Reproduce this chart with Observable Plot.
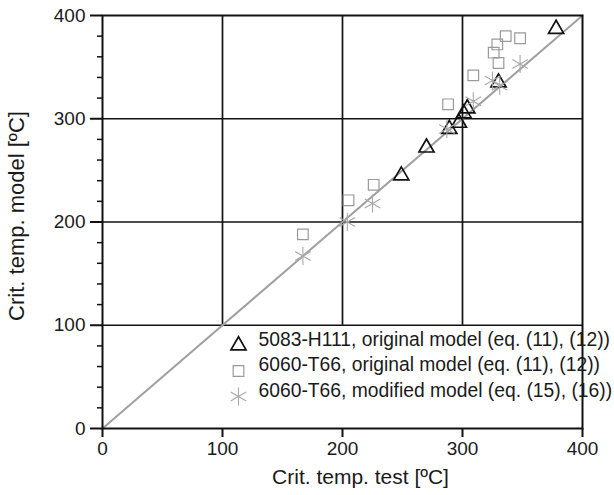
<!DOCTYPE html>
<html>
<head>
<meta charset="utf-8">
<script src="https://cdn.jsdelivr.net/npm/d3@7"></script>
<script src="https://cdn.jsdelivr.net/npm/@observablehq/plot@0.6"></script>
<style>
  html, body { margin: 0; padding: 0; background: #fff; }
  #chart svg { font-family: Arial, "Liberation Sans", sans-serif; overflow: visible; }
</style>
</head>
<body>
<div id="chart"></div>
<script>
// Critical temperature: test result (x) vs. model prediction (y), in ºC
const alloy5083Test  = [249, 270, 289, 297, 301, 304, 330, 378];
const alloy5083Model = [245, 272, 290, 296, 305, 310, 335, 387];

const alloy6060OrigTest  = [167, 205, 226, 288, 309, 330, 326, 329, 336, 348];
const alloy6060OrigModel = [188, 221, 236, 314, 342, 354, 364, 372, 380, 378];

const alloy6060ModTest  = [167, 204, 225, 287, 309, 325, 331, 348];
const alloy6060ModModel = [167, 200, 218, 290, 317, 337, 332, 353];

const majorTicks = [0, 100, 200, 300, 400];
const gridTicks = [100, 200, 300];
const minorTicksY = [20, 40, 60, 80, 120, 140, 160, 180, 220, 240, 260, 280, 320, 340, 360, 380];
const parity = [0, 400];

const xTitle = "Crit. temp. test [ºC]";
const yTitle = "Crit. temp. model [ºC]";

const seriesLabels = [
  "5083-H111, original model (eq. (11), (12))",
  "6060-T66, original model (eq. (11), (12))",
  "6060-T66, modified model (eq. (15), (16))"
];

const pairs = (xs, ys) => xs.map((x, i) => ({test: x, model: ys[i]}));

const styles = [
  {symbol: "triangle", r: 5.6, stroke: "#111", strokeWidth: 1.7},
  {symbol: "square",   r: 6.0, stroke: "#9a9a9a", strokeWidth: 1.2},
  {symbol: "asterisk", r: 8.5, stroke: "#a8a8a8", strokeWidth: 1.1}
];

const series = [
  pairs(alloy5083Test, alloy5083Model),
  pairs(alloy6060OrigTest, alloy6060OrigModel),
  pairs(alloy6060ModTest, alloy6060ModModel)
];

const FONT = 19;

// legend rows inside the lower-right part of the frame
const legendMarks = seriesLabels.flatMap((label, i) => {
  const dy = -83 + i * 25.5;
  return [
    Plot.dot([label], {frameAnchor: "bottom-left", dx: 136, dy, fill: "none", ...styles[i]}),
    Plot.text([label], {frameAnchor: "bottom-left", dx: 156, dy, text: d => d,
      textAnchor: "start", fontSize: FONT + 0.3, fill: "#1a1a1a"})
  ];
});

const chart = Plot.plot({
  width: 614,
  height: 495,
  marginLeft: 102,
  marginRight: 32,
  marginTop: 15,
  marginBottom: 67,
  style: {fontFamily: "Arial, 'Liberation Sans', sans-serif", fontSize: FONT + "px", color: "#1a1a1a"},
  x: {domain: [0, 400]},
  y: {domain: [0, 400]},
  marks: [
    Plot.ruleY(gridTicks, {stroke: "#111", strokeWidth: 1.7}),
    Plot.ruleX(gridTicks, {y1: 100, y2: 400, stroke: "#111", strokeWidth: 1.7}),
    Plot.line(parity, {x: d => d, y: d => d, stroke: "#a0a0a0", strokeWidth: 2}),
    ...series.map((data, i) => Plot.dot(data, {x: "test", y: "model", fill: "none", ...styles[i]})),
    Plot.frame({stroke: "#111", strokeWidth: 2}),
    Plot.axisX(majorTicks, {tickSize: 9, tickPadding: 4, fontSize: FONT, label: null, stroke: "#111", strokeWidth: 2}),
    Plot.axisY(majorTicks, {tickSize: 12, tickPadding: 5, fontSize: FONT, label: null, stroke: "#111", strokeWidth: 2}),
    Plot.axisY(minorTicksY, {tickSize: 5, fill: "none", label: null, stroke: "#111", strokeWidth: 1.5}),
    Plot.text([xTitle], {frameAnchor: "bottom", dx: 18, dy: 55, text: d => d, fontSize: 21, fill: "#1a1a1a"}),
    Plot.text([yTitle], {frameAnchor: "left", dx: -86, dy: -6, rotate: -90, textAnchor: "middle",
      text: d => d, fontSize: 22, letterSpacing: "2.6px", fill: "#1a1a1a"}),
    ...legendMarks
  ]
});

document.getElementById("chart").append(chart);
</script>
</body>
</html>
